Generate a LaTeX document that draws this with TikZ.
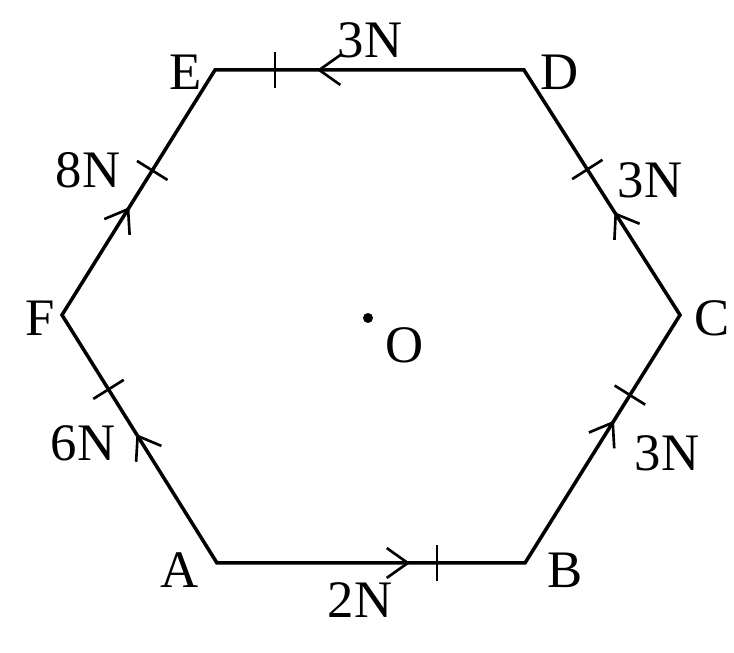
\documentclass[tikz,border=0pt]{standalone}
\usepackage{fontspec}
\setmainfont{Liberation Serif}
\usetikzlibrary{arrows.meta,decorations.markings}

\begin{document}
\begin{tikzpicture}[
    side/.style={line width=2pt},
    lbl/.style={font=\fontsize{30}{36}\selectfont, inner sep=0pt},
    force/.style 2 args={postaction={decorate, decoration={markings,
        mark=at position #1 with {\arrow[line width=1.5pt]{Straight Barb[length=12pt,width=17pt]}},
        mark=at position #2 with {\draw[line width=1.5pt] (0,-0.36) -- (0,0.36);}}}}
]
    \useasboundingbox (0,0) rectangle (14.68,13.06);

    % vertices of the hexagon
    \coordinate (A) at (4.34,1.80);
    \coordinate (B) at (10.50,1.80);
    \coordinate (C) at (13.60,6.76);
    \coordinate (D) at (10.48,11.66);
    \coordinate (E) at (4.30,11.66);
    \coordinate (F) at (1.24,6.76);

    \draw[side, line join=miter] (A) -- (B) -- (C) -- (D) -- (E) -- (F) -- cycle;

    % forces along the sides
    \path[force={0.627}{0.714}] (A) -- (B);
    \path[force={0.574}{0.677}] (B) -- (C);
    \path[force={0.42}{0.594}] (C) -- (D);
    \path[force={0.67}{0.806}] (D) -- (E);
    \path[force={0.52}{0.70}] (A) -- (F);
    \path[force={0.44}{0.59}] (F) -- (E);

    % centre
    \fill (7.36,6.70) circle (0.1);
    \node[lbl] (Olbl) at (8.10,6.16) {O};

    \node[lbl] (Albl) at (3.60,1.66) {A};
    \node[lbl] (Blbl) at (11.30,1.66) {B};
    \node[lbl] (Clbl) at (14.24,6.70) {C};
    \node[lbl] (Dlbl) at (11.20,11.62) {D};
    \node[lbl] (Elbl) at (3.72,11.62) {E};
    \node[lbl] (Flbl) at (0.80,6.70) {F};

    \node[lbl] (fAB) at (7.20,1.06) {2N};
    \node[lbl] (fBC) at (13.34,4.00) {3N};
    \node[lbl] (fCD) at (13.00,9.46) {3N};
    \node[lbl] (fDE) at (7.40,12.26) {3N};
    \node[lbl] (fFE) at (1.76,9.66) {8N};
    \node[lbl] (fAF) at (1.66,4.20) {6N};
\end{tikzpicture}
\end{document}
